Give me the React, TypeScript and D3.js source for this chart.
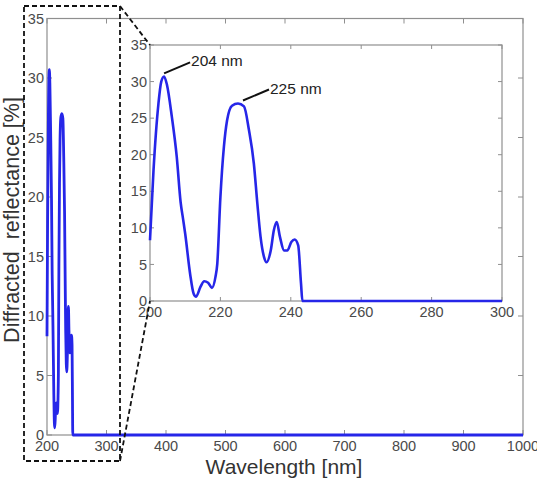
import { useEffect, useRef } from "react";
import * as d3 from "d3";

// Measured spectrum (wavelength in nm, diffracted reflectance in %)
const wavelength = [
  200, 201, 202.4, 203.2, 204, 204.8, 206.2, 207.6, 208.7, 209.4, 210, 211.4,
  212.4, 213.1, 214.3, 215.4, 216.5, 217.6, 218.6, 219.1, 220, 221, 221.9,
  223.3, 225, 226.7, 228.1, 229.5, 230.5, 231.4, 232.4, 233.1, 234.3, 235.2,
  236, 236.9, 238.1, 239, 240.2, 241.1, 242.1, 242.9, 243.3, 260, 1000,
];
const reflectance = [
  8.3, 17.9, 27, 30, 30.7, 29.6, 25.2, 19.7, 13.5, 11.2, 9.2, 3.7, 1.0, 0.6,
  1.9, 2.7, 2.5, 1.8, 3.3, 5.0, 14.2, 21.1, 24.7, 26.7, 27.0, 26.6, 23.4, 18.8,
  13.3, 8.8, 6.0, 5.3, 6.9, 9.7, 10.8, 8.8, 6.9, 6.9, 8.1, 8.4, 7.6, 2.4, 0, 0,
  0,
];

const yTicks = [0, 5, 10, 15, 20, 25, 30, 35];
const mainXTicks = [200, 300, 400, 500, 600, 700, 800, 900, 1000];
const insetXTicks = [200, 220, 240, 260, 280, 300];
const peakNm = [204, 225];
const peakLabels = ["204 nm", "225 nm"];

const W = 537;
const H = 483;
const BLUE = "#2626e8";
const AXIS = "#8f8f8f";
const TICK_TEXT = "#4a4a4a";
const FONT = "Liberation Sans, Arial, sans-serif";

type Pt = [number, number];

function drawAxes(
  g: d3.Selection<SVGGElement, unknown, null, undefined>,
  x: d3.ScaleLinear<number, number>,
  y: d3.ScaleLinear<number, number>,
  xTicks: number[],
  tickLen: number,
  fontSize: number
) {
  const [x0, x1] = x.range();
  const [y0, y1] = y.range();

  g.append("rect")
    .attr("x", x0)
    .attr("y", y1)
    .attr("width", x1 - x0)
    .attr("height", y0 - y1)
    .attr("fill", "#fff")
    .attr("stroke", AXIS)
    .attr("stroke-width", 1.2);

  // inward ticks on all four sides
  const ticks = g.append("g").attr("stroke", AXIS).attr("stroke-width", 1);
  xTicks.forEach((t) => {
    ticks.append("line").attr("x1", x(t)).attr("x2", x(t)).attr("y1", y0).attr("y2", y0 - tickLen);
    ticks.append("line").attr("x1", x(t)).attr("x2", x(t)).attr("y1", y1).attr("y2", y1 + tickLen);
  });
  yTicks.forEach((t) => {
    ticks.append("line").attr("x1", x0).attr("x2", x0 + tickLen).attr("y1", y(t)).attr("y2", y(t));
    ticks.append("line").attr("x1", x1).attr("x2", x1 - tickLen).attr("y1", y(t)).attr("y2", y(t));
  });

  g.append("g")
    .selectAll("text")
    .data(xTicks)
    .join("text")
    .attr("x", (d) => x(d))
    .attr("y", y0 + fontSize + 1)
    .attr("text-anchor", "middle")
    .attr("font-size", fontSize)
    .attr("fill", TICK_TEXT)
    .text((d) => d);

  g.append("g")
    .selectAll("text")
    .data(yTicks)
    .join("text")
    .attr("x", x0 - 3)
    .attr("y", (d) => y(d))
    .attr("dy", "0.35em")
    .attr("text-anchor", "end")
    .attr("font-size", fontSize)
    .attr("fill", TICK_TEXT)
    .text((d) => d);
}

export default function App() {
  const svgRef = useRef<SVGSVGElement>(null);

  useEffect(() => {
    const svg = d3.select(svgRef.current);
    svg.selectAll("*").remove();
    svg.attr("font-family", FONT);

    const data: Pt[] = wavelength.map((w, i) => [w, reflectance[i]]);

    // ---- main axes
    const x = d3.scaleLinear().domain([200, 1000]).range([47, 523]);
    const y = d3.scaleLinear().domain([0, 35]).range([435, 18.5]);
    const main = svg.append("g");
    drawAxes(main, x, y, mainXTicks, 5, 14.5);

    const mainLine = d3
      .line<Pt>()
      .x((d) => x(d[0]))
      .y((d) => y(d[1]))
      .curve(d3.curveMonotoneX);
    main
      .append("path")
      .attr("d", mainLine(data))
      .attr("fill", "none")
      .attr("stroke", BLUE)
      .attr("stroke-width", 2.8)
      .attr("stroke-linejoin", "round");

    svg
      .append("text")
      .attr("x", 284)
      .attr("y", 474)
      .attr("text-anchor", "middle")
      .attr("font-size", 21)
      .attr("fill", "#333")
      .text("Wavelength [nm]");

    svg
      .append("text")
      .attr("transform", "translate(19,220) rotate(-90)")
      .attr("text-anchor", "middle")
      .attr("font-size", 21.5)
      .attr("fill", "#333")
      .attr("xml:space", "preserve")
      .text("Diffracted  reflectance [%]");

    // ---- zoom region marker
    const dash = svg.append("g").attr("fill", "none").attr("stroke", "#111").attr("stroke-width", 1.8).attr("stroke-dasharray", "5,3");
    dash.append("rect").attr("x", 24).attr("y", 6).attr("width", 96).attr("height", 455);

    // ---- inset axes
    const xi = d3.scaleLinear().domain([200, 300]).range([150, 502]);
    const yi = d3.scaleLinear().domain([0, 35]).range([301, 45]);
    const inset = svg.append("g");
    drawAxes(inset, xi, yi, insetXTicks, 4, 14.5);

    const insetLine = d3
      .line<Pt>()
      .x((d) => xi(Math.min(d[0], 300)))
      .y((d) => yi(d[1]))
      .curve(d3.curveMonotoneX);
    inset
      .append("path")
      .attr("d", insetLine(data.filter((d) => d[0] <= 300).concat([[300, 0]])))
      .attr("fill", "none")
      .attr("stroke", BLUE)
      .attr("stroke-width", 2.6)
      .attr("stroke-linejoin", "round");

    // peak annotations
    peakNm.forEach((nm, i) => {
      const val = reflectance[wavelength.indexOf(nm)];
      const px = xi(nm) + (i === 0 ? 0 : 5);
      const py = yi(val) - 3;
      inset
        .append("line")
        .attr("x1", px)
        .attr("y1", py)
        .attr("x2", px + 26)
        .attr("y2", py - 11)
        .attr("stroke", "#111")
        .attr("stroke-width", 2);
      inset
        .append("text")
        .attr("x", px + 27)
        .attr("y", py - 7)
        .attr("font-size", 15.5)
        .attr("fill", "#222")
        .text(peakLabels[i]);
    });

    // connectors from marker box to inset corners
    dash.raise();
    dash.append("line").attr("x1", 120).attr("y1", 6).attr("x2", xi.range()[0]).attr("y2", yi.range()[1]);
    dash.append("line").attr("x1", 120).attr("y1", 461).attr("x2", xi.range()[0]).attr("y2", yi.range()[0]);
  }, []);

  return (
    <svg
      ref={svgRef}
      width={W}
      height={H}
      viewBox={`0 0 ${W} ${H}`}
      style={{ position: "absolute", left: 0, top: 0, background: "#fff" }}
    />
  );
}
